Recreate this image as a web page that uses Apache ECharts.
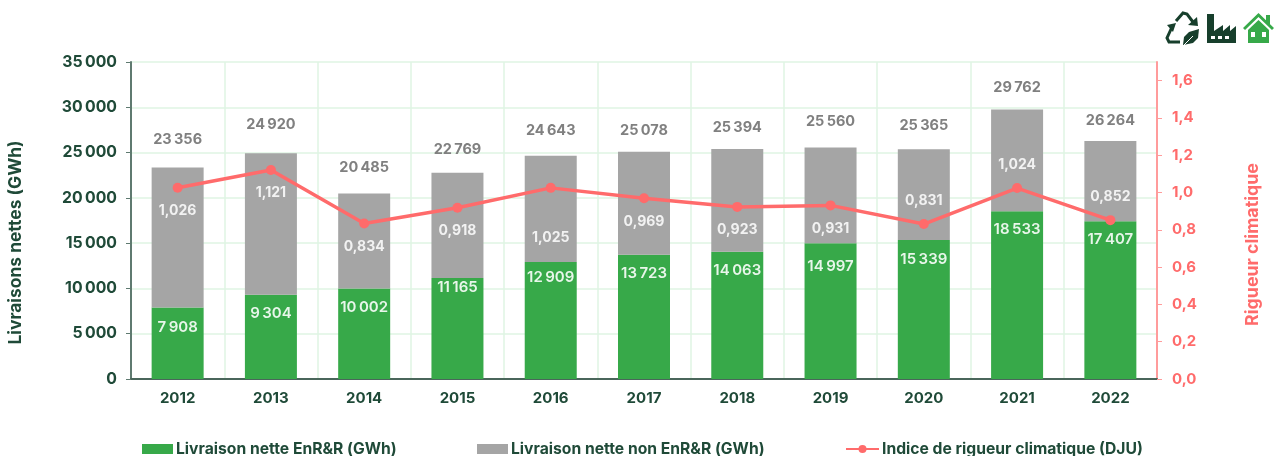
<!DOCTYPE html>
<html><head><meta charset="utf-8">
<style>html,body{margin:0;padding:0;background:#fff}#c{width:1274px;height:456px}</style>
<script src="https://cdn.jsdelivr.net/npm/echarts@6/dist/echarts.min.js"></script>
</head><body><div id="c"></div>
<script>
const years = ['2012','2013','2014','2015','2016','2017','2018','2019','2020','2021','2022'];
const enr = [7908,9304,10002,11165,12909,13723,14063,14997,15339,18533,17407];
const total = [23356,24920,20485,22769,24643,25078,25394,25560,25365,29762,26264];
const dju = [1.026,1.121,0.834,0.918,1.025,0.969,0.923,0.931,0.831,1.024,0.852];
const rightTicks = [0,0.2,0.4,0.6,0.8,1.0,1.2,1.4,1.6];
// label placement nudges (px)
const enrLabelNudge = [3,1,2,-8,-2,1,1,6,2,1,1];
const totalLabelNudge = [-6,-7,-4,-2,-4,0,0,-4,-2,0,1];
const djuLabelPlace = ['bottom','bottom','bottom','bottom','bottom','bottom','bottom','bottom','top','top','top'];
const djuLabelNudge = [0,0,0,0,27,0,0,0,0,0,0];

const FONT = 'Inter';
const DARK = '#1f4a38', GREEN = '#37a949', GREY = '#a5a5a5', RED = '#ff6b6b', GRID = '#dff5e3', ICON = '#173f2c';
const thin = v => String(v).replace(/\B(?=(\d{3})+$)/g, '\u202f');
const comma = (v, d) => v.toFixed(d).replace('.', ',');
const legendText = {color: DARK, fontFamily: FONT, fontWeight: 700, fontSize: 15.7, padding: [0,0,0,-2]};

const chart = echarts.init(document.getElementById('c'));
chart.setOption({
  animation: false,
  textStyle: {fontFamily: FONT},
  grid: {left: 131, right: 117, top: 62, bottom: 77, outerBoundsMode: 'none'},
  legend: [
    {data: ['Livraison nette EnR&R (GWh)'], left: 137, top: 436, itemWidth: 31, itemHeight: 10, icon: 'rect', textStyle: legendText},
    {data: ['Livraison nette non EnR&R (GWh)'], left: 472, top: 436, itemWidth: 31, itemHeight: 10, icon: 'rect', textStyle: legendText},
    {data: ['Indice de rigueur climatique (DJU)'], left: 840, top: 436, itemWidth: 33, itemHeight: 10, textStyle: legendText}
  ],
  xAxis: {
    type: 'category', data: years,
    axisTick: {show: false},
    axisLine: {lineStyle: {color: '#4a665b', width: 2}},
    axisLabel: {color: DARK, fontWeight: 700, fontSize: 15, margin: 12},
    splitLine: {show: true, lineStyle: {color: GRID, width: 1.5}}
  },
  yAxis: [
    {type: 'value', min: 0, max: 35000, interval: 5000,
     name: 'Livraisons nettes (GWh)', nameLocation: 'middle', nameGap: 107, nameRotate: 90,
     nameTextStyle: {color: DARK, fontWeight: 700, fontSize: 17.4, padding: [0,44,0,0]},
     axisLine: {show: true, lineStyle: {color: '#5f7a70', width: 2}},
     axisTick: {show: true, length: 5, lineStyle: {color: '#5f7a70'}},
     axisLabel: {color: DARK, fontWeight: 700, fontSize: 15.8, margin: 14, formatter: v => thin(v)},
     splitLine: {show: true, lineStyle: {color: GRID, width: 1.5}}},
    {type: 'value', min: 0, max: 1.7,
     name: 'Rigueur climatique', nameLocation: 'middle', nameGap: 87, nameRotate: 90,
     nameTextStyle: {color: RED, fontWeight: 700, fontSize: 17.8, padding: [0,48,0,0]},
     axisLine: {show: true, lineStyle: {color: '#ff9c9c', width: 2}},
     axisTick: {show: true, length: 5, lineStyle: {color: '#ff9c9c'}, customValues: rightTicks},
     axisLabel: {color: RED, fontWeight: 700, fontSize: 15, margin: 15, customValues: rightTicks, formatter: v => comma(v, 1)},
     splitLine: {show: false}}
  ],
  series: [
    {name: 'Livraison nette EnR&R (GWh)', type: 'bar', stack: 's', barWidth: 52,
     itemStyle: {color: GREEN},
     data: enr.map((v, i) => ({value: v, label: {offset: [0, enrLabelNudge[i]]}})),
     label: {show: true, position: 'insideTop', distance: 10, color: '#e8f6ea', fontWeight: 600, fontSize: 15,
             formatter: p => thin(p.value)}},
    {name: 'Livraison nette non EnR&R (GWh)', type: 'bar', stack: 's', barWidth: 52,
     itemStyle: {color: GREY},
     data: total.map((t, i) => ({value: t - enr[i], label: {offset: [0, totalLabelNudge[i]]}})),
     label: {show: true, position: 'top', distance: 14, color: '#808080', fontWeight: 700, fontSize: 14.5,
             formatter: p => thin(total[p.dataIndex])}},
    {name: 'Indice de rigueur climatique (DJU)', type: 'line', yAxisIndex: 1, z: 5,
     symbol: 'circle', symbolSize: 10,
     lineStyle: {color: RED, width: 3.5}, itemStyle: {color: RED},
     data: dju.map((v, i) => ({value: v, label: {position: djuLabelPlace[i], offset: [0, djuLabelNudge[i]]}})),
     label: {show: true, distance: 11, color: '#f2f2f2', fontWeight: 700, fontSize: 14,
             formatter: p => comma(p.value, 3)}}
  ],
  graphic: [
    // recycling mark
    {type: 'group', x: 1166, y: 12, silent: true, children: [
      {type: 'polyline', shape: {points: [[10,9],[17,1],[21,2],[27,10]]}, style: {stroke: ICON, lineWidth: 3, fill: null}},
      {type: 'polygon', shape: {points: [[22,13],[32,14],[31,5]]}, style: {fill: ICON}},
      {type: 'polyline', shape: {points: [[6,15],[1,26],[3,30],[14,30]]}, style: {stroke: ICON, lineWidth: 3, fill: null}},
      {type: 'polygon', shape: {points: [[1,13],[10,11],[7,20]]}, style: {fill: ICON}},
      {type: 'polygon', shape: {points: [[17,33],[18,25],[23,20],[33,17],[32,26],[27,31]]}, style: {fill: ICON}},
      {type: 'line', shape: {x1: 18, y1: 33, x2: 27, y2: 24}, style: {stroke: '#fff', lineWidth: 1}}
    ]},
    // factory
    {type: 'group', x: 1207, y: 14, silent: true, children: [
      {type: 'polygon', shape: {points: [[0,0],[7,0],[7,17],[16,11],[16,17],[23,11],[23,17],[29,12],[29,29],[0,29]]}, style: {fill: ICON}},
      {type: 'rect', shape: {x: 4, y: 22, width: 4, height: 3}, style: {fill: '#fff'}},
      {type: 'rect', shape: {x: 11, y: 22, width: 4, height: 3}, style: {fill: '#fff'}},
      {type: 'rect', shape: {x: 18, y: 22, width: 4, height: 3}, style: {fill: '#fff'}}
    ]},
    // house
    {type: 'group', x: 1243, y: 13, silent: true, children: [
      {type: 'rect', shape: {x: 23, y: 2, width: 4, height: 9}, style: {fill: GREEN}},
      {type: 'polygon', shape: {points: [[15.5,0],[31,15],[29,17],[15.5,4],[2,17],[0,15]]}, style: {fill: GREEN}},
      {type: 'polygon', shape: {points: [[5,17],[15.5,7],[26,17],[26,30],[5,30]]}, style: {fill: GREEN}},
      {type: 'rect', shape: {x: 8, y: 19, width: 4, height: 5}, style: {fill: '#fff'}},
      {type: 'rect', shape: {x: 19, y: 19, width: 4, height: 5}, style: {fill: '#fff'}}
    ]}
  ]
});
</script></body></html>
